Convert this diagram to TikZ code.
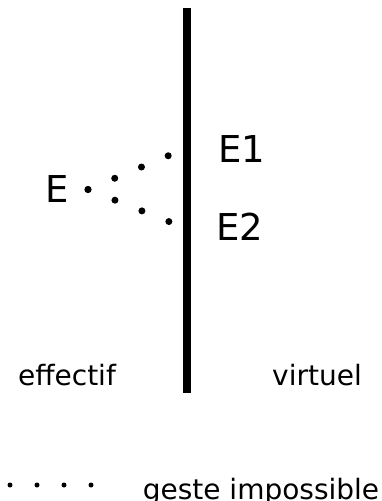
\documentclass[tikz,border=0pt]{standalone}
\usepackage{fontspec}
\setmainfont{DejaVu Sans}
\usetikzlibrary{positioning}
\tikzset{%
  wall/.style={
    line width=8pt
  },
  big letter/.style={
    inner sep=0pt,
    anchor=base,
    font=\fontsize{37}{42}\selectfont
  },
  side word/.style={
    inner sep=0pt,
    anchor=base,
    font=\fontsize{28}{32}\selectfont
  },
  impossible/.style={
    line width=7pt,
    line cap=round,
    dash pattern=on 0pt off 29pt
  },
}
\begin{document}
\begin{tikzpicture}[x=1pt, y=-1pt]
\useasboundingbox (0,0) rectangle (382,501);

% the separation
\coordinate (wall-top) at (187,8);
\coordinate (wall-bottom) at (187,393);
\draw [wall] (wall-top) -- (wall-bottom);

\node [big letter] (E) at (57.5,202) {E};
\coordinate (gesture) at (88,189.5);

\foreach \l/\x/\y [count=\i] in {1/241.5/162, 2/240/240}
  \node [big letter] (E\l) at (\x,\y) {E\l};

\coordinate (target-1) at (170,155);
\coordinate (target-2) at (170,222);

\foreach \i in {1,2}
  \draw [impossible] (gesture) -- (target-\i);

\node [side word] (effectif) at (67,385) {effectif};
\node [side word] (virtuel) at (317,385) {virtuel};

% key
\coordinate (key-start) at (10,485);
\coordinate (key-end) at (92,485);
\draw [impossible, line width=5pt, dash pattern=on 0pt off 27pt]
  (key-start) -- (key-end);
\node [side word] (key) at (261,499) {geste impossible};

\end{tikzpicture}
\end{document}
